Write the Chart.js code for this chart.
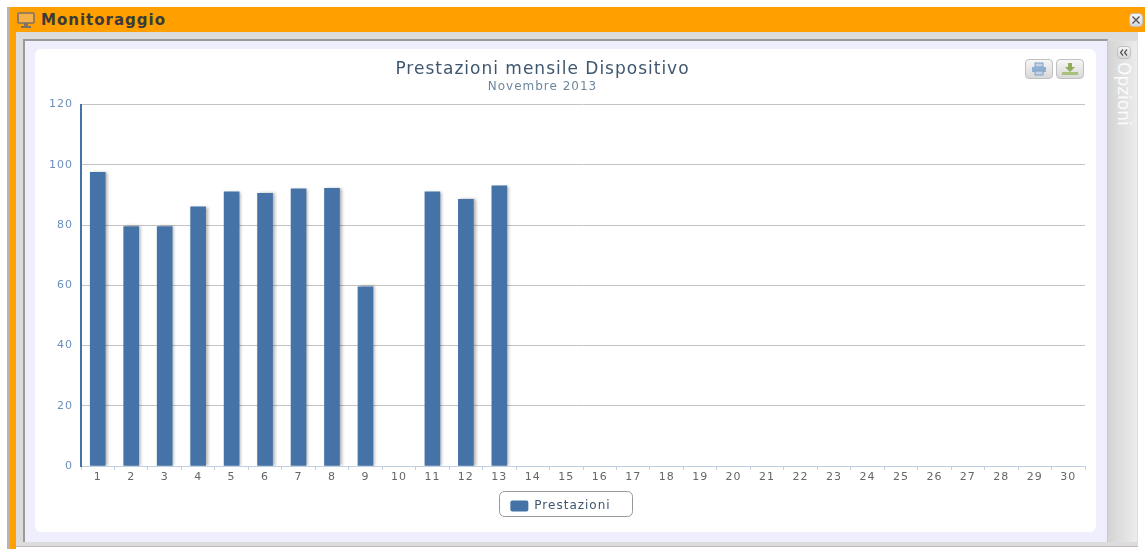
<!DOCTYPE html>
<html><head><meta charset="utf-8">
<script src="https://cdn.jsdelivr.net/npm/chart.js@4"></script>
<style>
html,body{margin:0;padding:0;background:#fff;overflow:hidden;width:1145px;height:549px;font-family:"DejaVu Sans",sans-serif}
div{position:absolute;box-sizing:border-box}
#outerL{left:7px;top:7px;width:3px;height:542px;background:#b4b4b4}
#orangeT{left:10px;top:7px;width:1135px;height:25px;background:#ff9f00;border-radius:3px 0 0 0}
#orangeL{left:10px;top:7px;width:6px;height:542px;background:#ff9f00}
#gray{left:16px;top:32px;width:1122px;height:515px;background:#dcdcdc;border-bottom:1px solid #c4b8b8}
#inner{left:23px;top:39px;width:1085px;height:503px;background:#eeeefc;border-left:2px solid #9a9a9a;border-top:2px solid #9a9a9a;border-right:1px solid #c8c8c8}
#side{left:1108px;top:41px;width:29px;height:501px;background:linear-gradient(90deg,#d4d4d4,#ececec)}
#panel{left:35px;top:49px;width:1061px;height:483px;background:#fff;border-radius:6px}
#head{left:41px;top:10px;font-weight:bold;font-size:15px;letter-spacing:1px;line-height:20px;color:#3a3a3a;white-space:nowrap}
#opz{left:1115px;top:62px;width:18px;height:62px;writing-mode:vertical-rl;font-size:17px;line-height:18px;color:#fbfbfb;white-space:nowrap}
.btn{background:linear-gradient(#f6f6f6,#d8d8d8);border:1px solid #c0c0c0;border-radius:4px}
canvas{position:absolute;left:0;top:49px}
svg{position:absolute}
</style></head><body>
<div id="outerL"></div><div id="gray"></div><div id="orangeT"></div><div id="orangeL"></div>
<svg style="left:17px;top:11px" width="20" height="18"><rect x="1" y="2" width="16" height="10" rx="1" fill="#f5b04a" stroke="#7a7268" stroke-width="1.6"/><rect x="7" y="12" width="4" height="3" fill="#7a7268"/><rect x="4" y="15" width="10" height="2" fill="#7a7268"/></svg>
<div id="head">Monitoraggio</div>
<div class="btn" style="left:1129px;top:13px;width:14px;height:14px"></div>
<svg style="left:1129px;top:13px" width="14" height="14"><path d="M3.5 3.5L10.5 10.5M10.5 3.5L3.5 10.5" stroke="#555" stroke-width="1.4"/></svg>
<div id="inner"></div><div id="side"></div>
<div class="btn" style="left:1117px;top:46px;width:14px;height:13px"></div>
<svg style="left:1117px;top:46px" width="14" height="13"><path d="M6 3.5L3.5 6.5L6 9.5M10 3.5L7.5 6.5L10 9.5" fill="none" stroke="#555" stroke-width="1.2"/></svg>
<div id="opz">Opzioni</div>
<div id="panel"></div>
<canvas id="c" width="1086" height="483"></canvas>
<div class="btn" style="left:1025px;top:59px;width:28px;height:20px"></div>
<svg style="left:1025px;top:59px" width="28" height="20"><rect x="10" y="4" width="8" height="4" fill="#c3d3e6" stroke="#7f9ec2"/><rect x="7" y="8" width="14" height="5" fill="#8fb0d3"/><rect x="10" y="12" width="8" height="4" fill="#c3d3e6" stroke="#7f9ec2"/></svg>
<div class="btn" style="left:1056px;top:59px;width:28px;height:20px"></div>
<svg style="left:1056px;top:59px" width="28" height="20"><path d="M12 4h4v4h3l-5 5l-5-5h3z" fill="#8fae5d"/><rect x="6" y="13" width="16" height="3" fill="#a8bf80"/></svg>
<script>
const categories = ["1","2","3","4","5","6","7","8","9","10","11","12","13","14","15","16","17","18","19","20","21","22","23","24","25","26","27","28","29","30"];
const prestazioni = [97.5,79.5,79.5,86,91,90.5,92,92.2,59.5,null,91,88.5,93,null,null,null,null,null,null,null,null,null,null,null,null,null,null,null,null,null];
const yTicks = [0,20,40,60,80,100,120];
const seriesName = "Prestazioni";
const chartTitle = "Prestazioni mensile Dispositivo";
const chartSubtitle = "Novembre 2013";
const font = '"DejaVu Sans", sans-serif';

const chrome = {
  id:'chrome',
  beforeUpdate(c){ c.ctx.letterSpacing='1px'; },
  afterLayout(c){ c.legend.left+=18; c.legend.right+=18; },
  beforeDraw(c){ c.ctx.letterSpacing='1px'; },
  beforeDatasetDraw(c){
    const x=c.ctx; x.save();
    x.shadowColor='rgba(0,0,0,0.3)'; x.shadowOffsetX=2; x.shadowOffsetY=0; x.shadowBlur=3;
  },
  afterDatasetDraw(c){ c.ctx.restore(); },
  afterDraw(c){
    const x=c.ctx;
    x.save();
    x.strokeStyle='#999'; x.lineWidth=1;
    x.beginPath(); x.roundRect(499.5,442.5,133,25,5); x.stroke();
    x.restore();
  }
};
new Chart(document.getElementById('c'),{
  type:'bar',
  plugins:[chrome],
  data:{labels:categories,datasets:[{label:seriesName,data:prestazioni,backgroundColor:'#4572a7',barThickness:15}]},
  options:{
    responsive:false,animation:false,
    layout:{padding:{left:0,right:1,top:0,bottom:10}},
    scales:{
      x:{offset:true,
        afterFit(s){s.height=21;},
        grid:{display:true,drawOnChartArea:false,offset:true,color:'#c0d0e0',tickLength:4},
        border:{color:'#c0d0e0',width:1},
        ticks:{color:'#666',font:{family:font,size:11},maxRotation:0,autoSkip:false,padding:1}},
      y:{min:0,max:120,
        afterBuildTicks(s){s.ticks=yTicks.map(v=>({value:v}));},
        afterFit(s){s.width=81;},
        grid:{color:'#c4c4c4',drawTicks:false},
        border:{color:'#4572a7',width:2},
        ticks:{color:'#6d8fbb',font:{family:font,size:11},padding:8}}
    },
    plugins:{
      tooltip:{enabled:false},
      title:{display:true,text:chartTitle,color:'#3e576f',font:{family:font,size:17,weight:'normal'},padding:{top:10,bottom:0}},
      subtitle:{display:true,text:chartSubtitle,color:'#6d869f',font:{family:font,size:12,weight:'normal'},padding:{top:0,bottom:10.7}},
      legend:{position:'bottom',labels:{boxWidth:18,boxHeight:11,useBorderRadius:true,borderRadius:2,color:'#3e576f',font:{family:font,size:12},padding:13}}
    }
  }
});
</script>
</body></html>
